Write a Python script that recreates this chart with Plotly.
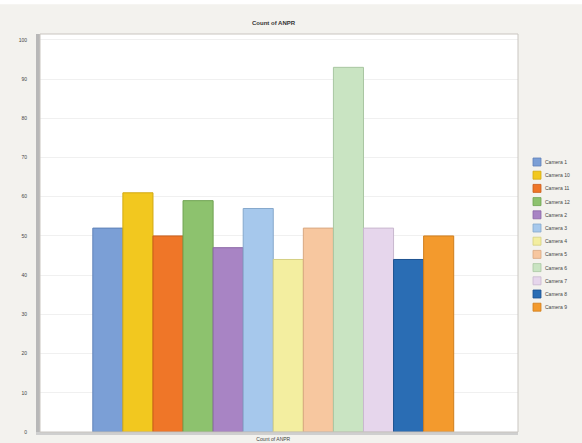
import plotly.graph_objects as go

categories = ["Count of ANPR"]
series_names = ["Camera 1", "Camera 10", "Camera 11", "Camera 12", "Camera 2", "Camera 3",
                "Camera 4", "Camera 5", "Camera 6", "Camera 7", "Camera 8", "Camera 9"]
series_values = [52, 61, 50, 59, 47, 57, 44, 52, 93, 52, 44, 50]
colors = ["#7b9fd6", "#f2c81f", "#ef7628", "#8dc26e", "#a884c4", "#a6c8ec",
          "#f3eea0", "#f7c79f", "#c9e4c2", "#e6d6ec", "#2a6db4", "#f39a2d"]
line_colors = ["#5f82b8", "#d2a912", "#c95d1a", "#6fa352", "#8a67a6", "#86a8cc",
               "#d4cf82", "#d8a881", "#a9c6a2", "#c8b8ce", "#1d5290", "#d07e1c"]
y_ticks = [0, 10, 20, 30, 40, 50, 60, 70, 80, 90, 100]

W, H = 582, 443
ML, MR, MT, MB = 40, 64, 34, 11
PW, PH = W - ML - MR, H - MT - MB

def px_x(x):
    return (x - ML) / PW

def px_y(y):
    return (H - MB - y) / PH

fig = go.Figure()
for name, val, c, lc in zip(series_names, series_values, colors, line_colors):
    fig.add_trace(go.Bar(x=categories, y=[val], name=name, showlegend=False,
                         marker=dict(color=c, line=dict(color=lc, width=1))))

# custom compact legend (Excel style)
for i, (name, c, lc) in enumerate(zip(series_names, colors, line_colors)):
    yc = 162 + 13.2 * i
    fig.add_shape(type="rect", xref="paper", yref="paper",
                  x0=px_x(533), x1=px_x(541), y0=px_y(yc + 4), y1=px_y(yc - 4),
                  fillcolor=c, line=dict(color=lc, width=0.8), layer="above")
    fig.add_annotation(text=name, xref="paper", yref="paper", x=px_x(543), y=px_y(yc),
                       xanchor="left", yanchor="middle", showarrow=False,
                       font=dict(family="Liberation Sans", size=5, color="#444444"))

fig.update_layout(
    width=W, height=H,
    margin=dict(l=ML, r=MR, t=MT, b=MB, autoexpand=False),
    paper_bgcolor="#f3f2ee",
    plot_bgcolor="#ffffff",
    barmode="group", bargap=0.245, bargroupgap=0,
    title=dict(text="<b>Count of ANPR</b>", x=0.47, xanchor="center", y=0.948, yanchor="middle",
               font=dict(family="Liberation Sans", size=6, color="#333333")),
    font=dict(family="Liberation Sans", size=5, color="#444444"),
    showlegend=False,
)
fig.update_yaxes(range=[0, 101.5], tickvals=y_ticks, showgrid=True, gridcolor="#f0f0f0",
                 gridwidth=1, zeroline=False, showline=True, linecolor="#b8b8b8", linewidth=4,
                 ticks="", ticklabelstandoff=8, tickfont=dict(size=5, color="#444444"),
                 mirror=False, automargin=False)
fig.update_xaxes(range=[-0.488, 0.512], showline=True, linecolor="#cfcfcf", linewidth=3, ticks="",
                 ticklabelstandoff=0, tickfont=dict(size=5, color="#444444"), mirror=False,
                 automargin=False)
fig.add_shape(type="rect", xref="paper", yref="paper", x0=0, x1=1, y0=0, y1=1,
              line=dict(color="#c9c5c0", width=1), fillcolor="rgba(0,0,0,0)", layer="above")
fig.add_shape(type="rect", xref="paper", yref="paper", x0=-0.1, x1=1.2, y0=1.075, y1=1.2,
              line=dict(width=0), fillcolor="#ffffff", layer="below")

fig.write_html("out.html")
